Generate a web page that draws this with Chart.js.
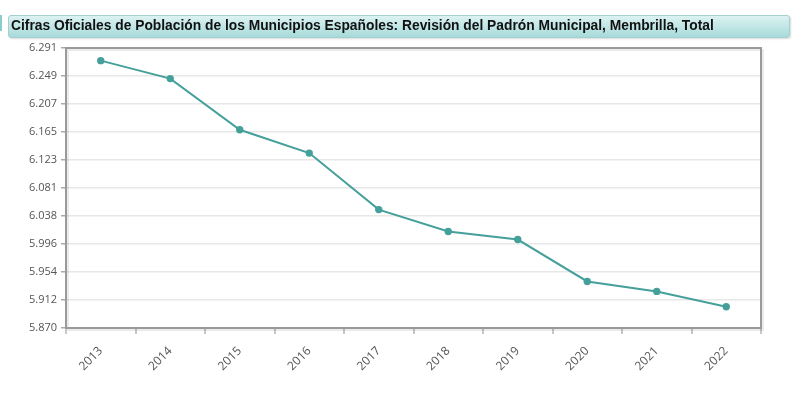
<!DOCTYPE html>
<html>
<head>
<meta charset="utf-8">
<script src="https://cdn.jsdelivr.net/npm/chart.js@4/dist/chart.umd.min.js"></script>
<style>
  html, body { margin: 0; padding: 0; background: #fff; }
  #wrap { position: relative; width: 800px; height: 397px; }
  #title {
    position: absolute; left: 8px; top: 15px; width: 782px; height: 23px;
    box-sizing: border-box; padding: 2px 0 0 2px; line-height: 21px;
    font: bold 13.8px "Liberation Sans", Arial, sans-serif; color: #111;
    background: linear-gradient(to bottom, #dcf2f2, #a8dada);
    border: 1px solid #a3cfcf; border-radius: 3px;
    box-shadow: 1px 1px 2px rgba(0,0,0,0.15);
    white-space: nowrap;
  }
  #edge { position: absolute; left: 0; top: 15px; width: 2px; height: 16px; background: #8cc; }
  canvas { position: absolute; left: 0; top: 0; }
</style>
</head>
<body>
<div id="wrap">
  <canvas id="chart" width="800" height="397"></canvas>
  <div id="edge"></div>
  <div id="title">Cifras Oficiales de Población de los Municipios Españoles: Revisión del Padrón Municipal, Membrilla, Total</div>
</div>
<script>
const years = ['2013', '2014', '2015', '2016', '2017', '2018', '2019', '2020', '2021', '2022'];
const population = [6272, 6245, 6168, 6133, 6048, 6015, 6003, 5940, 5925, 5902];
const yTicks = [5870, 5912.1, 5954.2, 5996.3, 6038.4, 6080.5, 6122.6, 6164.7, 6206.8, 6248.9, 6291];

function fmt(v) {
  return String(Math.round(v)).replace(/\B(?=(\d{3})+(?!\d))/g, '.');
}

const frame = {
  id: 'frame',
  afterDraw(chart) {
    const a = chart.chartArea, c = chart.ctx;
    c.save();
    c.strokeStyle = 'rgba(0,0,0,0.08)';
    c.lineWidth = 2;
    c.strokeRect(a.left + 2, a.top + 2, a.right - a.left, a.bottom - a.top);
    c.strokeStyle = '#9a9a9a';
    c.lineWidth = 2;
    c.strokeRect(a.left, a.top, a.right - a.left, a.bottom - a.top);
    c.restore();
  }
};

new Chart(document.getElementById('chart'), {
  type: 'line',
  data: {
    labels: years,
    datasets: [{
      data: population,
      borderColor: '#45a09b',
      backgroundColor: '#45a09b',
      borderWidth: 2,
      pointRadius: 2.7,
      pointHoverRadius: 2.7,
      tension: 0
    }]
  },
  options: {
    responsive: false,
    animation: false,
    layout: { padding: { left: 0, top: 48, right: 39, bottom: 0 } },
    plugins: { legend: { display: false }, tooltip: { enabled: false } },
    scales: {
      x: {
        offset: true,
        grid: { offset: true, drawOnChartArea: false, tickLength: 6, tickColor: '#c8c8c8', lineWidth: 2 },
        border: { display: false },
        ticks: {
          minRotation: 45, maxRotation: 45, padding: 10,
          color: '#555', font: { family: 'Open Sans', size: 12 }
        },
        afterFit(axis) { axis.height = 69; }
      },
      y: {
        min: 5870, max: 6291,
        afterBuildTicks(axis) { axis.ticks = yTicks.map(v => ({ value: v })); },
        grid: { color: '#e8e8e8', lineWidth: 1.5, tickLength: 5, tickColor: '#aaa' },
        border: { display: false },
        ticks: {
          padding: 4, color: '#555', font: { family: 'Open Sans', size: 11 },
          callback: v => fmt(v)
        },
        afterFit(axis) { axis.width = 66; }
      }
    }
  },
  plugins: [frame]
});
</script>
</body>
</html>
